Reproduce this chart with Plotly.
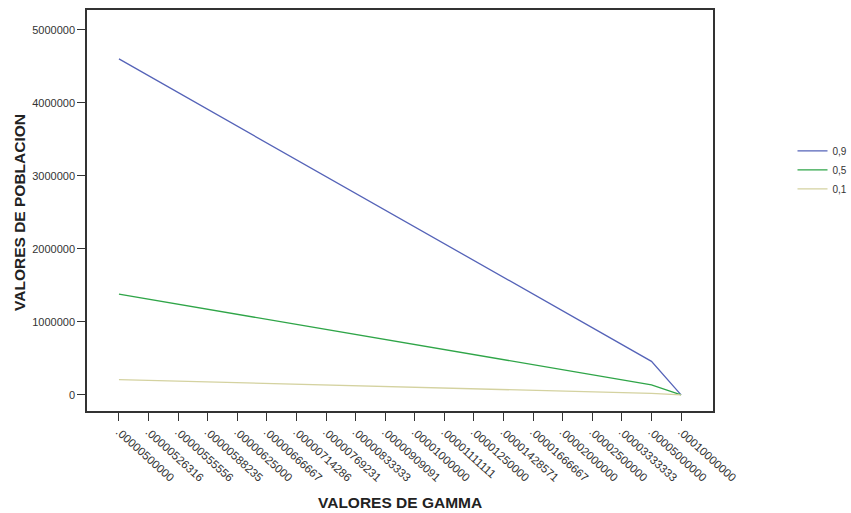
import plotly.graph_objects as go

gamma_labels = [".00000500000", ".00000526316", ".00000555556", ".00000588235", ".00000625000",
                ".00000666667", ".00000714286", ".00000769231", ".00000833333", ".00000909091",
                ".00001000000", ".00001111111", ".00001250000", ".00001428571", ".00001666667",
                ".00002000000", ".00002500000", ".00003333333", ".00005000000", ".00010000000"]

pob_09 = [4600000, 4370000, 4140000, 3910000, 3680000, 3450000, 3220000, 2990000, 2760000, 2530000,
          2300000, 2070000, 1840000, 1610000, 1380000, 1150000, 920000, 690000, 460000, 0]
pob_05 = [1380000, 1311000, 1242000, 1173000, 1104000, 1035000, 966000, 897000, 828000, 759000,
          690000, 621000, 552000, 483000, 414000, 345000, 276000, 207000, 138000, 0]
pob_01 = [210000, 199500, 189000, 178500, 168000, 157500, 147000, 136500, 126000, 115500,
          105000, 94500, 84000, 73500, 63000, 52500, 42000, 31500, 21000, 0]

series = [("0,9", pob_09, "#5563b8"), ("0,5", pob_05, "#2fa548"), ("0,1", pob_01, "#d4d2a0")]

fig = go.Figure()
for name, vals, col in series:
    fig.add_trace(go.Scatter(x=gamma_labels, y=vals, mode="lines", name=name,
                             line=dict(color=col, width=1.3)))

font = "Arial, Liberation Sans, sans-serif"
fig.update_layout(
    width=851, height=513,
    margin=dict(l=87, r=138, t=10, b=102, autoexpand=False),
    paper_bgcolor="white", plot_bgcolor="white",
    font=dict(family=font, color="#333333", size=11),
    showlegend=True,
    legend=dict(x=1.127, y=0.685, xanchor="left", yanchor="top",
                font=dict(size=10, color="#333333"), bgcolor="rgba(0,0,0,0)",
                itemwidth=30, tracegroupgap=0),
    xaxis=dict(type="category", range=[-1.08, 20.08], showgrid=False, zeroline=False,
               automargin=False,
               showline=True, linecolor="#333333", linewidth=1.5, mirror=True,
               ticks="outside", ticklen=8, tickcolor="#333333", tickangle=42,
               tickfont=dict(size=11.5, color="#333333")),
    yaxis=dict(range=[-220000, 5270000], showgrid=False, zeroline=False,
               automargin=False,
               showline=True, linecolor="#333333", linewidth=1.5, mirror=True,
               ticks="outside", ticklen=8, tickcolor="#333333",
               tickvals=[0, 1000000, 2000000, 3000000, 4000000, 5000000],
               tickformat="d", tickfont=dict(size=11, color="#333333")),
    annotations=[
        dict(text="<b>VALORES DE GAMMA</b>", x=0.5, y=-0.227, xref="paper", yref="paper",
             showarrow=False, font=dict(size=15.5, color="#222222", family=font),
             xanchor="center", yanchor="middle"),
        dict(text="<b>VALORES DE POBLACION</b>", x=-0.107, y=0.494, xref="paper", yref="paper",
             showarrow=False, textangle=-90, font=dict(size=15.5, color="#222222", family=font),
             xanchor="center", yanchor="middle"),
    ],
)

fig.write_html("out.html", config={"displayModeBar": False},
               post_script="document.body.style.margin='0';document.body.style.overflow='hidden';")
